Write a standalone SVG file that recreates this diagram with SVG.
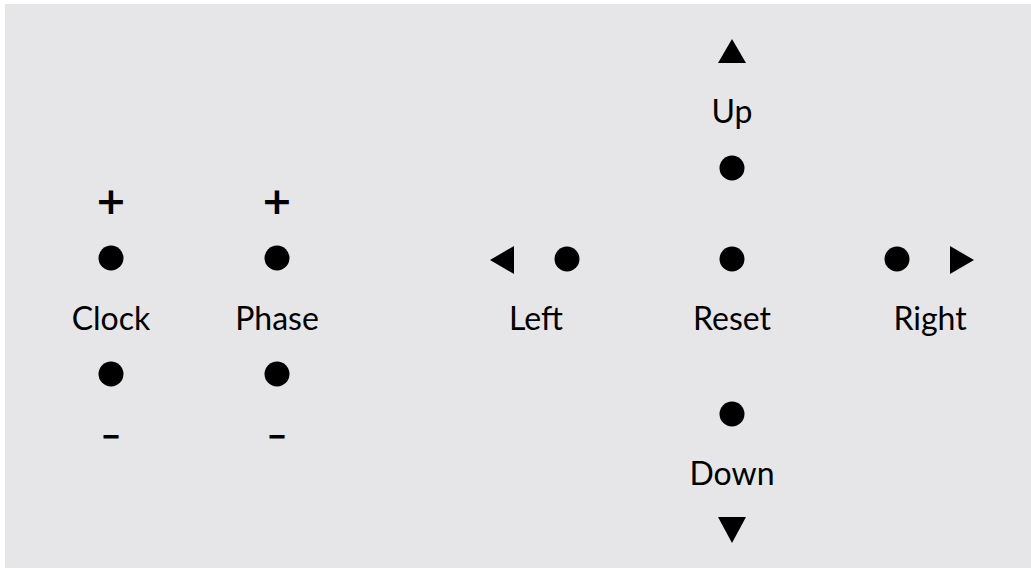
<svg xmlns="http://www.w3.org/2000/svg" width="1031" height="571" viewBox="0 0 1031 571">
<style>
.bg{fill:#e6e6e8}
.dot{fill:#000}
.tri{fill:#000}
.lbl{font-family:Lato,"Open Sans",sans-serif;font-size:32px;fill:#000;text-anchor:middle}
.plus{font-family:"DejaVu Sans",sans-serif;font-size:38px;font-weight:bold;fill:#000;text-anchor:middle}
.minus{font-family:"DejaVu Sans",sans-serif;font-size:35px;fill:#000;stroke:#000;stroke-width:0.9;text-anchor:middle}
</style>
<rect width="1031" height="571" fill="#ffffff"/>
<rect class="bg" x="5" y="4" width="1026" height="564"/>
<g id="clock">
<text class="plus" x="111" y="214">+</text>
<circle class="dot" cx="111" cy="258" r="12.5"/>
<text class="lbl" x="111" y="330">Clock</text>
<circle class="dot" cx="111" cy="374" r="12.5"/>
<text class="minus" x="111" y="447">–</text>
</g>
<g id="phase">
<text class="plus" x="277" y="214">+</text>
<circle class="dot" cx="277" cy="258" r="12.5"/>
<text class="lbl" x="277" y="330">Phase</text>
<circle class="dot" cx="277" cy="374" r="12.5"/>
<text class="minus" x="277" y="447">–</text>
</g>
<g id="left">
<polygon class="tri" points="490,260 514,246 514,274"/>
<circle class="dot" cx="567" cy="259" r="12.5"/>
<text class="lbl" x="536" y="330">Left</text>
</g>
<g id="up">
<polygon class="tri" points="732,39 746,63 718,63"/>
<text class="lbl" x="732" y="123">Up</text>
<circle class="dot" cx="732" cy="168" r="12.5"/>
</g>
<g id="reset">
<circle class="dot" cx="732" cy="259" r="12.5"/>
<text class="lbl" x="732" y="330">Reset</text>
</g>
<g id="down">
<circle class="dot" cx="732" cy="414" r="12.5"/>
<text class="lbl" x="732" y="485">Down</text>
<polygon class="tri" points="718,517 746,517 732,543"/>
</g>
<g id="right">
<circle class="dot" cx="897" cy="259" r="12.5"/>
<polygon class="tri" points="950,246 974,260 950,274"/>
<text class="lbl" x="930" y="330">Right</text>
</g>
<g id="connectors"/>
</svg>
